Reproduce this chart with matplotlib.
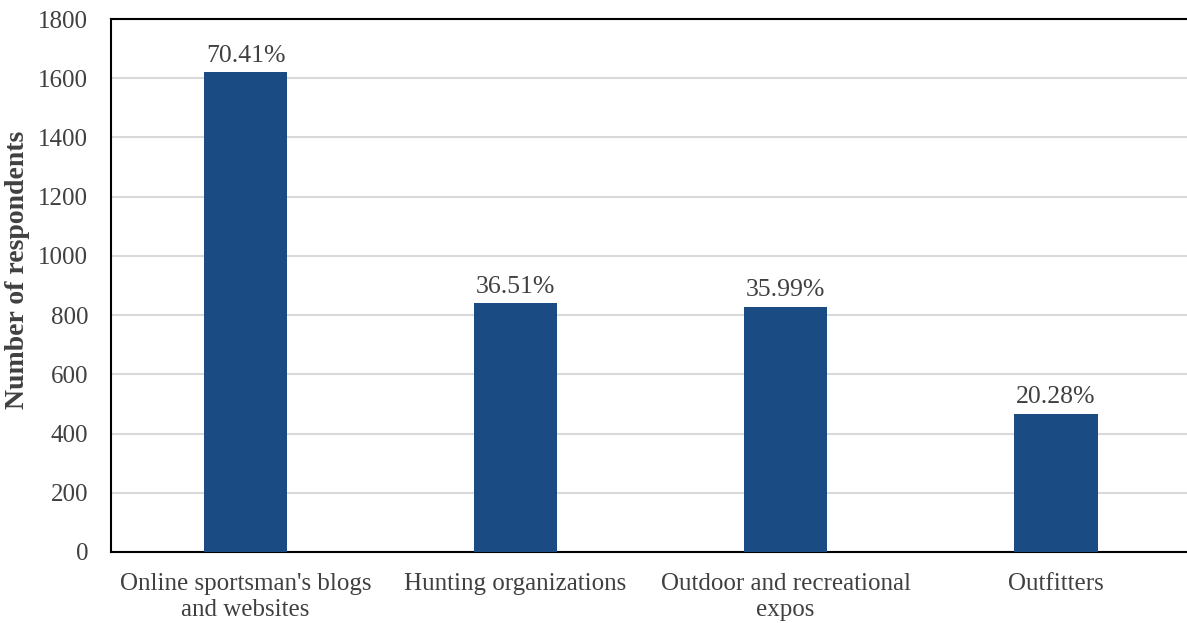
import matplotlib.pyplot as plt
import numpy as np

plt.rcParams['font.family'] = ['Liberation Serif', 'DejaVu Serif']

categories = ["Online sportsman's blogs\nand websites", "Hunting organizations",
              "Outdoor and recreational\nexpos", "Outfitters"]
respondents = [1621, 840, 829, 467]
percent_labels = ["70.41%", "36.51%", "35.99%", "20.28%"]
yticks = [0, 200, 400, 600, 800, 1000, 1200, 1400, 1600, 1800]


def main():
    fig = plt.figure(figsize=(11.87, 6.23), dpi=100)
    ax = fig.add_axes([0.0931, 0.114, 0.91, 0.8555])

    x = np.arange(len(categories))
    bars = ax.bar(x, respondents, width=0.31, color='#1a4b82', zorder=3)

    for bar, label in zip(bars, percent_labels):
        ax.text(bar.get_x() + bar.get_width() / 2, bar.get_height() + 18, label,
                ha='center', va='bottom', fontsize=18.5, color='#404040')

    ax.set_xlim(-0.5, 3.5)
    ax.set_ylim(0, 1800)
    ax.set_yticks(yticks)
    ax.set_xticks(x)
    ax.set_xticklabels(categories, fontsize=18, color='#404040', linespacing=1.25)
    ax.tick_params(axis='y', labelsize=18, labelcolor='#404040', length=0, pad=16)
    ax.tick_params(axis='x', length=0, pad=15)
    ax.yaxis.grid(True, color='#d9d9d9', linewidth=1.5, zorder=0)

    for side in ['top', 'left', 'bottom']:
        ax.spines[side].set_linewidth(1.5)
        ax.spines[side].set_color('black')
    ax.spines['right'].set_visible(False)

    ax.set_ylabel('Number of respondents', fontsize=20, fontweight='bold',
                  color='#404040')
    ax.yaxis.set_label_coords(-0.0745, 0.529)

    fig.savefig('out.png', dpi=100)


if __name__ == '__main__':
    main()
